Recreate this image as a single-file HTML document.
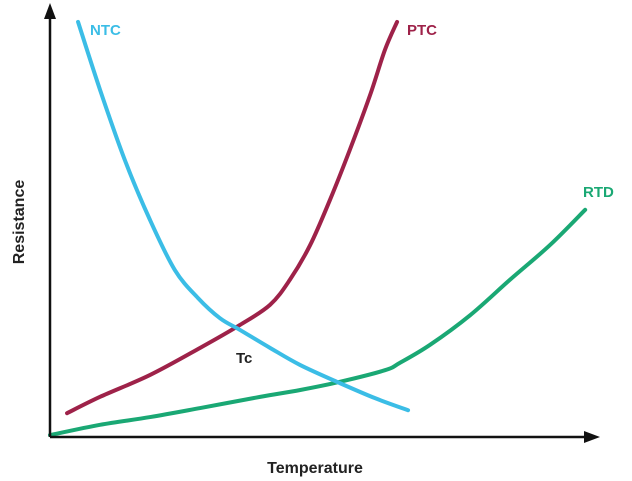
<!DOCTYPE html>
<html><head><meta charset="utf-8"><style>
html,body{margin:0;padding:0;background:#fff;}
svg{display:block;font-family:"Liberation Sans",sans-serif;}
</style></head><body>
<svg id="chart" width="632" height="481" viewBox="0 0 632 481">
  <g id="series"></g>
  <line x1="50" y1="437" x2="590" y2="437" stroke="#111" stroke-width="2.5"/>
  <polygon points="600,437 584,431 584,443" fill="#111"/>
  <line x1="50" y1="437" x2="50" y2="14" stroke="#111" stroke-width="2.5"/>
  <polygon points="50,3 44,19 56,19" fill="#111"/>
  <text x="315" y="473" text-anchor="middle" font-size="16" font-weight="bold" fill="#222">Temperature</text>
  <text transform="translate(24,222) rotate(-90)" text-anchor="middle" font-size="16" font-weight="bold" fill="#222">Resistance</text>
  <text x="90" y="35" font-size="15" font-weight="bold" fill="#3bbde6">NTC</text>
  <text x="407" y="35" font-size="15" font-weight="bold" fill="#9e2249">PTC</text>
  <text x="583" y="197" font-size="15" font-weight="bold" fill="#1aa874">RTD</text>
  <text x="236" y="363" font-size="15" font-weight="bold" fill="#222">Tc</text>
</svg>
<script>
const ntcX=[5.1,9.1,13.6,18.2,22.7,26.9,30.9,34.5,40,45.5,52.7,59.1,65.1];
const ntcY=[96.3,80.5,64.2,50.2,38.6,32.1,27.4,24.7,20.5,16.5,12.3,8.8,6.0];
const ptcX=[3.1,9.1,18.2,27.3,34.5,40,43.6,47.3,50.9,54.5,58.2,60.9,63.1];
const ptcY=[5.3,9.1,14.2,20.5,25.8,30.5,36.3,44.4,54.9,66.5,79.3,89.8,96.3];
const rtdX=[0,9.1,18.2,27.3,38.2,45.5,52.7,60.9,63.6,69.1,76.4,83.6,90.9,97.3];
const rtdY=[0.2,2.6,4.4,6.5,9.1,10.7,12.6,15.3,17,21.2,28.1,36.3,44.4,52.6];
function xScale(v){return 50+v*5.5;}
function yScale(v){return 436-v*4.3;}
function pathFrom(xs,ys){
  const p=xs.map((x,i)=>[xScale(x),yScale(ys[i])]);
  let d='M'+p[0][0]+','+p[0][1];
  for(let i=0;i<p.length-1;i++){
    const p0=p[i-1]||p[i],p1=p[i],p2=p[i+1],p3=p[i+2]||p2;
    const c1=[p1[0]+(p2[0]-p0[0])/6,p1[1]+(p2[1]-p0[1])/6];
    const c2=[p2[0]-(p3[0]-p1[0])/6,p2[1]-(p3[1]-p1[1])/6];
    d+=' C'+c1[0]+','+c1[1]+' '+c2[0]+','+c2[1]+' '+p2[0]+','+p2[1];
  }
  return d;
}
const g=document.getElementById('series');
function addLine(xs,ys,color,name){
  const el=document.createElementNS('http://www.w3.org/2000/svg','path');
  el.setAttribute('d',pathFrom(xs,ys));
  el.setAttribute('fill','none');
  el.setAttribute('stroke',color);
  el.setAttribute('stroke-width','4');
  el.setAttribute('stroke-linecap','round');
  
  
  g.appendChild(el);
}
addLine(rtdX,rtdY,'#1aa874','rtd-line');
addLine(ptcX,ptcY,'#9e2249','ptc-line');
addLine(ntcX,ntcY,'#3bbde6','ntc-line');
</script>
</body></html>
